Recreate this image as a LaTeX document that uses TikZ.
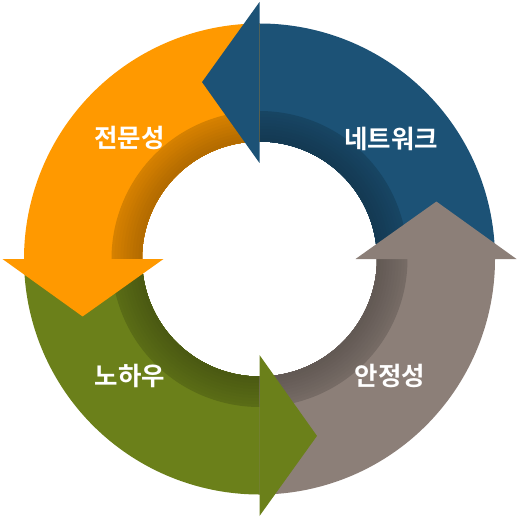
\documentclass[tikz,border=0pt]{standalone}
\usepackage{fontspec}
\newfontfamily\krfont{Noto Sans CJK KR Bold}
\definecolor{netblue}{HTML}{1C5276}
\definecolor{proorange}{HTML}{FF9900}
\definecolor{knowgreen}{HTML}{6B801A}
\definecolor{safegrey}{HTML}{8C7F78}
\tikzset{
  cyclelabel/.style={text=white,font=\krfont\fontsize{14.5}{16}\selectfont,inner sep=0pt}
}
\begin{document}
\begin{tikzpicture}[x=0.02cm,y=0.02cm]
  \useasboundingbox (-259.5,-258) rectangle (259.5,259);
  % bodies with darker inner band (ends tucked under the heads)
  \foreach \a/\c in {0/netblue,90/proorange,180/knowgreen,270/safegrey} {
    \fill[\c] (\a:117.5) arc[start angle=\a,end angle=\a+91,radius=117.5]
      -- (\a+91:235.5) arc[start angle=\a+91,end angle=\a,radius=235.5] -- cycle;
    \foreach \i in {0,...,9} {
      \pgfmathsetmacro\r{148-\i*3}
      \pgfmathsetmacro\s{84-\i*1.5}
      \fill[\c!\s!black] (\a:117.5) arc[start angle=\a,end angle=\a+91,radius=117.5]
        -- (\a+91:\r) arc[start angle=\a+91,end angle=\a,radius=\r] -- cycle;
    }
  }
  % arrow heads
  \foreach \a/\c in {0/netblue,90/proorange,180/knowgreen,270/safegrey}
    \fill[\c] (\a+90:96) -- (\a+108:186) -- (\a+90:257) -- cycle;
  % labels
  \node[cyclelabel] (pro) at (-130,121) {전문성};
  \node[cyclelabel] (net) at (131.5,120) {네트워크};
  \node[cyclelabel] (know) at (-129.5,-117) {노하우};
  \node[cyclelabel] (safe) at (130.5,-117) {안정성};
\end{tikzpicture}
\end{document}
